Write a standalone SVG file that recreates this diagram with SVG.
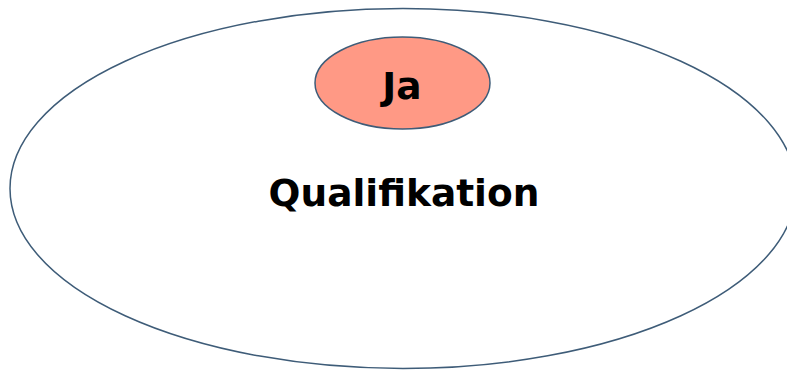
<svg xmlns="http://www.w3.org/2000/svg" width="787" height="370" viewBox="0 0 787 370">
<style>
.e{stroke:#3E5C78;stroke-width:1.5}
.t{font-family:"DejaVu Sans",Verdana,sans-serif;font-weight:bold;text-anchor:middle;fill:#000}
</style>
<rect width="787" height="370" fill="#fff"/>
<g id="qualifikation">
<ellipse class="e" cx="403" cy="188.5" rx="393" ry="180" fill="#fff"/>
<text class="t" x="404" y="206" font-size="37.5">Qualifikation</text>
</g>
<g id="ja">
<ellipse class="e" cx="402.5" cy="83" rx="87.5" ry="46" fill="#FF9985"/>
<text class="t" x="402" y="99" font-size="37.5">Ja</text>
</g>
<g id="connectors"/>
</svg>
